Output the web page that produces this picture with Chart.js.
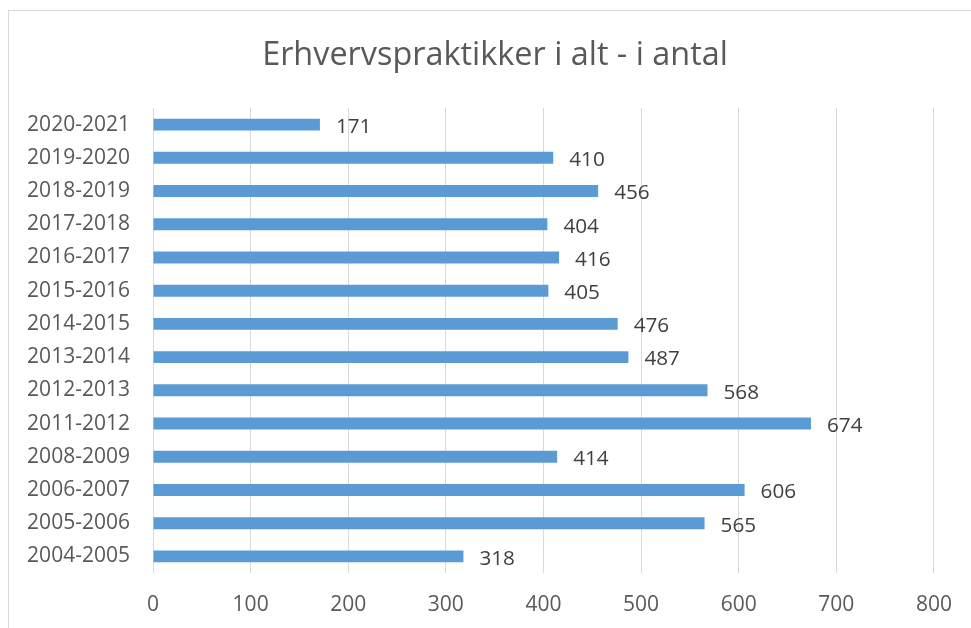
<!DOCTYPE html>
<html>
<head>
<meta charset="utf-8">
<script src="https://cdn.jsdelivr.net/npm/chart.js@4/dist/chart.umd.min.js"></script>
<style>
html,body{margin:0;padding:0;background:#fff;}
#wrap{position:relative;width:971px;height:628px;}
</style>
</head>
<body>
<div id="wrap"><canvas id="c" width="971" height="628"></canvas></div>
<script>
const titleText = "Erhvervspraktikker i alt - i antal";
const categories = ["2020-2021","2019-2020","2018-2019","2017-2018","2016-2017","2015-2016","2014-2015","2013-2014","2012-2013","2011-2012","2008-2009","2006-2007","2005-2006","2004-2005"];
const values = [171,410,456,404,416,405,476,487,568,674,414,606,565,318];
const xTicks = [0,100,200,300,400,500,600,700,800];

const FONT = "'Open Sans', sans-serif";

function fitSize(text, targetWidth) {
  const c = document.createElement('canvas').getContext('2d');
  c.font = "100px " + FONT;
  return 100 * targetWidth / c.measureText(text).width;
}

function build() {
  const titleSize = fitSize(titleText, 466);
  const tickSize = fitSize("2020-2021", 103);
  const labelSize = fitSize("674", 35.5);

  const framePlugin = {
    id: 'frame',
    beforeDraw(chart) {
      const ctx = chart.ctx;
      ctx.save();
      ctx.fillStyle = '#fff';
      ctx.fillRect(0,0,chart.width,chart.height);
      ctx.strokeStyle = '#d9d9d9';
      ctx.lineWidth = 1;
      ctx.strokeRect(8.5,10.5,1000,700);
      ctx.fillStyle = '#595959';
      ctx.font = titleSize + "px " + FONT;
      ctx.textAlign = 'center';
      ctx.textBaseline = 'alphabetic';
      ctx.fillText(titleText, 495, 65);
      ctx.restore();
    },
    afterDatasetsDraw(chart) {
      const ctx = chart.ctx;
      const meta = chart.getDatasetMeta(0);
      ctx.save();
      ctx.fillStyle = '#404040';
      ctx.font = labelSize + "px " + FONT;
      ctx.textAlign = 'left';
      ctx.textBaseline = 'middle';
      meta.data.forEach((bar, i) => {
        ctx.fillText(String(values[i]), bar.x + 16, bar.y + 2.5);
      });
      ctx.restore();
    }
  };

  new Chart(document.getElementById('c'), {
    type: 'bar',
    data: {
      labels: categories,
      datasets: [{
        data: values,
        backgroundColor: '#5b9bd5',
        borderWidth: 0,
        barPercentage: 0.6,
        categoryPercentage: 0.6
      }]
    },
    options: {
      indexAxis: 'y',
      responsive: false,
      animation: false,
      devicePixelRatio: 1,
      layout: { padding: { top: 108, right: 37, left: 0, bottom: 0 } },
      plugins: { legend: { display: false }, title: { display: false }, tooltip: { enabled: false } },
      scales: {
        x: {
          min: 0, max: 800,
          afterBuildTicks(scale) { scale.ticks = xTicks.map(v => ({ value: v })); },
          afterFit(scale) { scale.height = 55; },
          grid: { color: '#d9d9d9', lineWidth: 1, drawTicks: false },
          border: { display: false },
          ticks: { color: '#595959', font: { family: FONT, size: tickSize }, padding: 19, maxRotation: 0 }
        },
        y: {
          afterFit(scale) { scale.width = 153; },
          grid: { display: false, drawTicks: false },
          border: { display: false },
          ticks: { color: '#595959', font: { family: FONT, size: tickSize }, padding: 23, autoSkip: false }
        }
      }
    },
    plugins: [framePlugin]
  });
}

(document.fonts && document.fonts.load ? Promise.all([document.fonts.load("20px 'Open Sans'")]) : Promise.resolve())
  .then(build, build);
</script>
</body>
</html>
